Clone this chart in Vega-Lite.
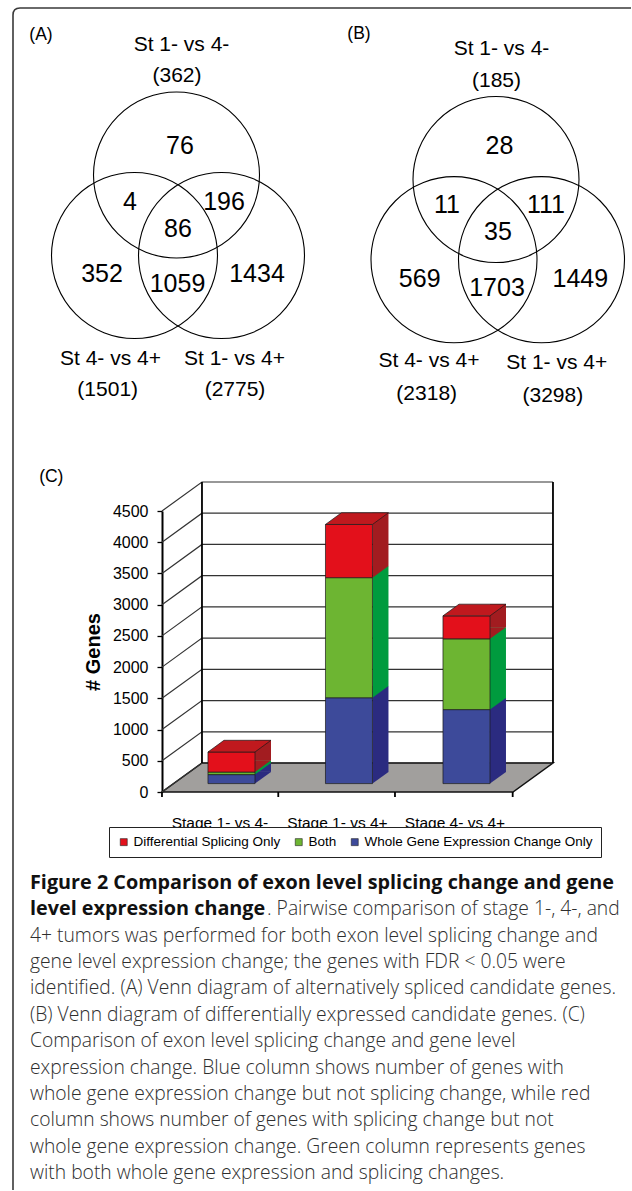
{
  "$schema": "https://vega.github.io/schema/vega-lite/v6.json",
  "padding": 0,
  "background": "white",
  "bounds": "flush",
  "spacing": 0,
  "config": {"view": {"stroke": null}, "font": "Liberation Sans"},
  "vconcat": [
    {
      "width": 632,
      "height": 511,
      "data": {"values": [
        {"kind": "circle", "x": 176.5, "y": 175},
        {"kind": "circle", "x": 134.5, "y": 255.5},
        {"kind": "circle", "x": 221.5, "y": 255.5},
        {"kind": "count", "x": 180, "y": 145.5, "label": "76"},
        {"kind": "count", "x": 130, "y": 201.5, "label": "4"},
        {"kind": "count", "x": 224, "y": 201.5, "label": "196"},
        {"kind": "count", "x": 178, "y": 229, "label": "86"},
        {"kind": "count", "x": 102, "y": 273.5, "label": "352"},
        {"kind": "count", "x": 177.5, "y": 283.5, "label": "1059"},
        {"kind": "count", "x": 257, "y": 273.5, "label": "1434"},
        {"kind": "set", "x": 181.5, "y": 44.5, "label": "St 1- vs 4-"},
        {"kind": "set", "x": 177, "y": 76, "label": "(362)"},
        {"kind": "set", "x": 110.5, "y": 358.5, "label": "St 4- vs 4+"},
        {"kind": "set", "x": 234.5, "y": 358.5, "label": "St 1- vs 4+"},
        {"kind": "set", "x": 107.7, "y": 390, "label": "(1501)"},
        {"kind": "set", "x": 235, "y": 390, "label": "(2775)"},
        {"kind": "panel", "x": 41, "y": 35, "label": "(A)"},
        {"kind": "panel", "x": 51.3, "y": 477, "label": "(C)"},
        {"kind": "circle", "x": 496, "y": 179.5},
        {"kind": "circle", "x": 454, "y": 259.7},
        {"kind": "circle", "x": 541.5, "y": 259.7},
        {"kind": "count", "x": 499.5, "y": 145.5, "label": "28"},
        {"kind": "count", "x": 447, "y": 205, "label": "11"},
        {"kind": "count", "x": 546, "y": 205, "label": "111"},
        {"kind": "count", "x": 498, "y": 232, "label": "35"},
        {"kind": "count", "x": 419.7, "y": 278.5, "label": "569"},
        {"kind": "count", "x": 497, "y": 287.5, "label": "1703"},
        {"kind": "count", "x": 580.3, "y": 278.5, "label": "1449"},
        {"kind": "set", "x": 501.5, "y": 48.5, "label": "St 1- vs 4-"},
        {"kind": "set", "x": 496.5, "y": 81, "label": "(185)"},
        {"kind": "set", "x": 429, "y": 361, "label": "St 4- vs 4+"},
        {"kind": "set", "x": 556.7, "y": 362.5, "label": "St 1- vs 4+"},
        {"kind": "set", "x": 426.7, "y": 394, "label": "(2318)"},
        {"kind": "set", "x": 552.8, "y": 396, "label": "(3298)"},
        {"kind": "panel", "x": 359, "y": 34, "label": "(B)"}
      ]},
      "encoding": {
        "x": {"field": "x", "type": "quantitative", "scale": {"domain": [0, 632]}, "axis": null},
        "y": {"field": "y", "type": "quantitative", "scale": {"domain": [0, 511], "reverse": true}, "axis": null}
      },
      "layer": [
        {"transform": [{"filter": "datum.kind === 'circle'"}],
         "mark": {"type": "point", "shape": "circle", "size": 27556, "filled": false, "color": "#000", "stroke": "#000", "strokeWidth": 1.1, "opacity": 1}},
        {"transform": [{"filter": "datum.kind === 'count'"}],
         "mark": {"type": "text", "font": "Liberation Sans", "fontSize": 25, "align": "center", "baseline": "middle", "color": "#000"},
         "encoding": {"text": {"field": "label", "type": "nominal"}}},
        {"transform": [{"filter": "datum.kind === 'set'"}],
         "mark": {"type": "text", "font": "Liberation Sans", "fontSize": 21, "align": "center", "baseline": "middle", "color": "#000"},
         "encoding": {"text": {"field": "label", "type": "nominal"}}},
        {"transform": [{"filter": "datum.kind === 'panel'"}],
         "mark": {"type": "text", "font": "Liberation Sans", "fontSize": 17.5, "align": "center", "baseline": "middle", "color": "#000"},
         "encoding": {"text": {"field": "label", "type": "nominal"}}},
        {"data": {"values": [{"x": 0, "y": 0}]},
         "mark": {"type": "point", "shape": "M13,1190 L13,15 Q13,8 20,8 L631,8", "size": 4, "filled": false, "color": "#3a3a3a", "stroke": "#3a3a3a", "strokeWidth": 1.6, "opacity": 1}}
      ]
    },
    {
      "width": 517,
      "height": 281,
      "data": {"values": [
        {"comparison": "Stage 1- vs 4-", "category": "Whole Gene Expression Change Only", "rank": "a", "count": 144},
        {"comparison": "Stage 1- vs 4-", "category": "Both", "rank": "b", "count": 41},
        {"comparison": "Stage 1- vs 4-", "category": "Differential Splicing Only", "rank": "c", "count": 321},
        {"comparison": "Stage 1- vs 4+", "category": "Whole Gene Expression Change Only", "rank": "a", "count": 1375},
        {"comparison": "Stage 1- vs 4+", "category": "Both", "rank": "b", "count": 1923},
        {"comparison": "Stage 1- vs 4+", "category": "Differential Splicing Only", "rank": "c", "count": 852},
        {"comparison": "Stage 4- vs 4+", "category": "Whole Gene Expression Change Only", "rank": "a", "count": 1185},
        {"comparison": "Stage 4- vs 4+", "category": "Both", "rank": "b", "count": 1133},
        {"comparison": "Stage 4- vs 4+", "category": "Differential Splicing Only", "rank": "c", "count": 368}
      ]},
      "layer": [
        {
          "data": {"values": [{}]},
          "mark": {"type": "point", "shape": "M-187,0 L164,0 L204,-29 L-147,-29 Z", "size": 4, "filled": true, "fill": "#A19F9D", "stroke": "#111", "strokeWidth": 1.5, "opacity": 1},
          "encoding": {
            "x": {"datum": "Stage 1- vs 4+", "type": "nominal", "scale": {"domain": ["Stage 1- vs 4-", "Stage 1- vs 4+", "Stage 4- vs 4+"], "paddingInner": 0.6, "paddingOuter": 1.1534, "align": 0.885},
                  "axis": {"title": null, "labelAngle": 0, "labelFont": "Liberation Sans", "labelFontSize": 15.5, "labelColor": "#000", "tickBand": "center", "bandPosition": 0.5, "labelOffset": -11.5, "labelPadding": 23, "ticks": false, "domain": false, "grid": false}},
            "y": {"datum": 0, "type": "quantitative", "scale": {"domain": [0, 4500], "nice": false},
                  "axis": {"offset": -162, "title": "# Genes", "titleFont": "Liberation Sans", "titleFontSize": 20, "titleFontWeight": "bold", "titleColor": "#000", "titleX": -69, "titleY": 140.5, "titleAngle": -90, "titleAlign": "center", "titleBaseline": "middle", "values": [0, 500, 1000, 1500, 2000, 2500, 3000, 3500, 4000, 4500], "format": "d", "labelOverlap": false, "labelFont": "Liberation Sans", "labelFontSize": 16, "labelColor": "#000", "labelPadding": 9, "tickSize": 5, "tickColor": "#000", "tickWidth": 1.3, "domainColor": "#000", "domainWidth": 2, "grid": false}}
          }
        },
        {
          "data": {"values": [{"v": 0}, {"v": 500}, {"v": 1000}, {"v": 1500}, {"v": 2000}, {"v": 2500}, {"v": 3000}, {"v": 3500}, {"v": 4000}, {"v": 4500}]},
          "mark": {"type": "point", "shape": "M-187,0 L-147,-29 L204,-29", "size": 4, "filled": false, "color": "#333", "stroke": "#333", "strokeWidth": 1.2, "opacity": 1},
          "encoding": {
            "x": {"datum": "Stage 1- vs 4+", "type": "nominal", "scale": {"domain": ["Stage 1- vs 4-", "Stage 1- vs 4+", "Stage 4- vs 4+"], "paddingInner": 0.6, "paddingOuter": 1.1534, "align": 0.885},
                  "axis": {"title": null, "labelAngle": 0, "labelFont": "Liberation Sans", "labelFontSize": 15.5, "labelColor": "#000", "tickBand": "center", "bandPosition": 0.5, "labelOffset": -11.5, "labelPadding": 23, "ticks": false, "domain": false, "grid": false}},
            "y": {"field": "v", "type": "quantitative", "scale": {"domain": [0, 4500], "nice": false},
                  "axis": {"offset": -162, "title": "# Genes", "titleFont": "Liberation Sans", "titleFontSize": 20, "titleFontWeight": "bold", "titleColor": "#000", "titleX": -69, "titleY": 140.5, "titleAngle": -90, "titleAlign": "center", "titleBaseline": "middle", "values": [0, 500, 1000, 1500, 2000, 2500, 3000, 3500, 4000, 4500], "format": "d", "labelOverlap": false, "labelFont": "Liberation Sans", "labelFontSize": 16, "labelColor": "#000", "labelPadding": 9, "tickSize": 5, "tickColor": "#000", "tickWidth": 1.3, "domainColor": "#000", "domainWidth": 2, "grid": false}}
          }
        },
        {
          "data": {"values": [{}]},
          "mark": {"type": "point", "shape": "M-147,-29 L-147,-310 M204,-29 L204,-310 M-187,0 L-187,5 M-70.7,0 L-70.7,5 M46,0 L46,5 M163.7,0 L163.7,5", "size": 4, "filled": false, "color": "#000", "stroke": "#000", "strokeWidth": 1.8, "opacity": 1},
          "encoding": {
            "x": {"datum": "Stage 1- vs 4+", "type": "nominal", "scale": {"domain": ["Stage 1- vs 4-", "Stage 1- vs 4+", "Stage 4- vs 4+"], "paddingInner": 0.6, "paddingOuter": 1.1534, "align": 0.885},
                  "axis": {"title": null, "labelAngle": 0, "labelFont": "Liberation Sans", "labelFontSize": 15.5, "labelColor": "#000", "tickBand": "center", "bandPosition": 0.5, "labelOffset": -11.5, "labelPadding": 23, "ticks": false, "domain": false, "grid": false}},
            "y": {"datum": 0, "type": "quantitative", "scale": {"domain": [0, 4500], "nice": false},
                  "axis": {"offset": -162, "title": "# Genes", "titleFont": "Liberation Sans", "titleFontSize": 20, "titleFontWeight": "bold", "titleColor": "#000", "titleX": -69, "titleY": 140.5, "titleAngle": -90, "titleAlign": "center", "titleBaseline": "middle", "values": [0, 500, 1000, 1500, 2000, 2500, 3000, 3500, 4000, 4500], "format": "d", "labelOverlap": false, "labelFont": "Liberation Sans", "labelFontSize": 16, "labelColor": "#000", "labelPadding": 9, "tickSize": 5, "tickColor": "#000", "tickWidth": 1.3, "domainColor": "#000", "domainWidth": 2, "grid": false}}
          }
        },
        {
          "transform": [{"stack": "count", "groupby": ["comparison"], "sort": [{"field": "rank", "order": "ascending"}], "as": ["y0", "y1"]}, {"filter": "datum.rank === 'a'"}],
          "mark": {"type": "bar", "width": 16, "xOffset": 31.5, "yOffset": -20.1, "y2Offset": -20.1, "color": "#2B2B80"},
          "encoding": {
            "x": {"field": "comparison", "type": "nominal", "scale": {"domain": ["Stage 1- vs 4-", "Stage 1- vs 4+", "Stage 4- vs 4+"], "paddingInner": 0.6, "paddingOuter": 1.1534, "align": 0.885},
                  "axis": {"title": null, "labelAngle": 0, "labelFont": "Liberation Sans", "labelFontSize": 15.5, "labelColor": "#000", "tickBand": "center", "bandPosition": 0.5, "labelOffset": -11.5, "labelPadding": 23, "ticks": false, "domain": false, "grid": false}},
            "y": {"field": "y1", "type": "quantitative", "scale": {"domain": [0, 4500], "nice": false},
                  "axis": {"offset": -162, "title": "# Genes", "titleFont": "Liberation Sans", "titleFontSize": 20, "titleFontWeight": "bold", "titleColor": "#000", "titleX": -69, "titleY": 140.5, "titleAngle": -90, "titleAlign": "center", "titleBaseline": "middle", "values": [0, 500, 1000, 1500, 2000, 2500, 3000, 3500, 4000, 4500], "format": "d", "labelOverlap": false, "labelFont": "Liberation Sans", "labelFontSize": 16, "labelColor": "#000", "labelPadding": 9, "tickSize": 5, "tickColor": "#000", "tickWidth": 1.3, "domainColor": "#000", "domainWidth": 2, "grid": false}},
            "y2": {"field": "y0"}
          }
        },
        {
          "transform": [{"stack": "count", "groupby": ["comparison"], "sort": [{"field": "rank", "order": "ascending"}], "as": ["y0", "y1"]}, {"filter": "datum.rank === 'b'"}],
          "mark": {"type": "bar", "width": 16, "xOffset": 31.5, "yOffset": -20.1, "y2Offset": -20.1, "color": "#009B3E"},
          "encoding": {
            "x": {"field": "comparison", "type": "nominal", "scale": {"domain": ["Stage 1- vs 4-", "Stage 1- vs 4+", "Stage 4- vs 4+"], "paddingInner": 0.6, "paddingOuter": 1.1534, "align": 0.885},
                  "axis": {"title": null, "labelAngle": 0, "labelFont": "Liberation Sans", "labelFontSize": 15.5, "labelColor": "#000", "tickBand": "center", "bandPosition": 0.5, "labelOffset": -11.5, "labelPadding": 23, "ticks": false, "domain": false, "grid": false}},
            "y": {"field": "y1", "type": "quantitative", "scale": {"domain": [0, 4500], "nice": false},
                  "axis": {"offset": -162, "title": "# Genes", "titleFont": "Liberation Sans", "titleFontSize": 20, "titleFontWeight": "bold", "titleColor": "#000", "titleX": -69, "titleY": 140.5, "titleAngle": -90, "titleAlign": "center", "titleBaseline": "middle", "values": [0, 500, 1000, 1500, 2000, 2500, 3000, 3500, 4000, 4500], "format": "d", "labelOverlap": false, "labelFont": "Liberation Sans", "labelFontSize": 16, "labelColor": "#000", "labelPadding": 9, "tickSize": 5, "tickColor": "#000", "tickWidth": 1.3, "domainColor": "#000", "domainWidth": 2, "grid": false}},
            "y2": {"field": "y0"}
          }
        },
        {
          "transform": [{"stack": "count", "groupby": ["comparison"], "sort": [{"field": "rank", "order": "ascending"}], "as": ["y0", "y1"]}, {"filter": "datum.rank === 'c'"}],
          "mark": {"type": "bar", "width": 16, "xOffset": 31.5, "yOffset": -20.1, "y2Offset": -20.1, "color": "#A21C20"},
          "encoding": {
            "x": {"field": "comparison", "type": "nominal", "scale": {"domain": ["Stage 1- vs 4-", "Stage 1- vs 4+", "Stage 4- vs 4+"], "paddingInner": 0.6, "paddingOuter": 1.1534, "align": 0.885},
                  "axis": {"title": null, "labelAngle": 0, "labelFont": "Liberation Sans", "labelFontSize": 15.5, "labelColor": "#000", "tickBand": "center", "bandPosition": 0.5, "labelOffset": -11.5, "labelPadding": 23, "ticks": false, "domain": false, "grid": false}},
            "y": {"field": "y1", "type": "quantitative", "scale": {"domain": [0, 4500], "nice": false},
                  "axis": {"offset": -162, "title": "# Genes", "titleFont": "Liberation Sans", "titleFontSize": 20, "titleFontWeight": "bold", "titleColor": "#000", "titleX": -69, "titleY": 140.5, "titleAngle": -90, "titleAlign": "center", "titleBaseline": "middle", "values": [0, 500, 1000, 1500, 2000, 2500, 3000, 3500, 4000, 4500], "format": "d", "labelOverlap": false, "labelFont": "Liberation Sans", "labelFontSize": 16, "labelColor": "#000", "labelPadding": 9, "tickSize": 5, "tickColor": "#000", "tickWidth": 1.3, "domainColor": "#000", "domainWidth": 2, "grid": false}},
            "y2": {"field": "y0"}
          }
        },
        {
          "transform": [{"stack": "count", "groupby": ["comparison"], "sort": [{"field": "rank", "order": "ascending"}], "as": ["y0", "y1"]}, {"filter": "datum.rank === 'a'"}],
          "mark": {"type": "point", "shape": "M23.5,0 L23.5,-11.7 L39.5,-11.7 Z", "size": 4, "filled": true, "opacity": 1, "strokeWidth": 0, "yOffset": -8.4, "color": "#2B2B80"},
          "encoding": {
            "x": {"field": "comparison", "type": "nominal", "scale": {"domain": ["Stage 1- vs 4-", "Stage 1- vs 4+", "Stage 4- vs 4+"], "paddingInner": 0.6, "paddingOuter": 1.1534, "align": 0.885},
                  "axis": {"title": null, "labelAngle": 0, "labelFont": "Liberation Sans", "labelFontSize": 15.5, "labelColor": "#000", "tickBand": "center", "bandPosition": 0.5, "labelOffset": -11.5, "labelPadding": 23, "ticks": false, "domain": false, "grid": false}},
            "y": {"field": "y0", "type": "quantitative", "scale": {"domain": [0, 4500], "nice": false},
                  "axis": {"offset": -162, "title": "# Genes", "titleFont": "Liberation Sans", "titleFontSize": 20, "titleFontWeight": "bold", "titleColor": "#000", "titleX": -69, "titleY": 140.5, "titleAngle": -90, "titleAlign": "center", "titleBaseline": "middle", "values": [0, 500, 1000, 1500, 2000, 2500, 3000, 3500, 4000, 4500], "format": "d", "labelOverlap": false, "labelFont": "Liberation Sans", "labelFontSize": 16, "labelColor": "#000", "labelPadding": 9, "tickSize": 5, "tickColor": "#000", "tickWidth": 1.3, "domainColor": "#000", "domainWidth": 2, "grid": false}}
          }
        },
        {
          "transform": [{"stack": "count", "groupby": ["comparison"], "sort": [{"field": "rank", "order": "ascending"}], "as": ["y0", "y1"]}, {"filter": "datum.rank === 'b'"}],
          "mark": {"type": "point", "shape": "M23.5,0 L23.5,-11.7 L39.5,-11.7 Z", "size": 4, "filled": true, "opacity": 1, "strokeWidth": 0, "yOffset": -8.4, "color": "#009B3E"},
          "encoding": {
            "x": {"field": "comparison", "type": "nominal", "scale": {"domain": ["Stage 1- vs 4-", "Stage 1- vs 4+", "Stage 4- vs 4+"], "paddingInner": 0.6, "paddingOuter": 1.1534, "align": 0.885},
                  "axis": {"title": null, "labelAngle": 0, "labelFont": "Liberation Sans", "labelFontSize": 15.5, "labelColor": "#000", "tickBand": "center", "bandPosition": 0.5, "labelOffset": -11.5, "labelPadding": 23, "ticks": false, "domain": false, "grid": false}},
            "y": {"field": "y0", "type": "quantitative", "scale": {"domain": [0, 4500], "nice": false},
                  "axis": {"offset": -162, "title": "# Genes", "titleFont": "Liberation Sans", "titleFontSize": 20, "titleFontWeight": "bold", "titleColor": "#000", "titleX": -69, "titleY": 140.5, "titleAngle": -90, "titleAlign": "center", "titleBaseline": "middle", "values": [0, 500, 1000, 1500, 2000, 2500, 3000, 3500, 4000, 4500], "format": "d", "labelOverlap": false, "labelFont": "Liberation Sans", "labelFontSize": 16, "labelColor": "#000", "labelPadding": 9, "tickSize": 5, "tickColor": "#000", "tickWidth": 1.3, "domainColor": "#000", "domainWidth": 2, "grid": false}}
          }
        },
        {
          "transform": [{"stack": "count", "groupby": ["comparison"], "sort": [{"field": "rank", "order": "ascending"}], "as": ["y0", "y1"]}, {"filter": "datum.rank === 'c'"}],
          "mark": {"type": "point", "shape": "M23.5,0 L23.5,-11.7 L39.5,-11.7 Z", "size": 4, "filled": true, "opacity": 1, "strokeWidth": 0, "yOffset": -8.4, "color": "#A21C20"},
          "encoding": {
            "x": {"field": "comparison", "type": "nominal", "scale": {"domain": ["Stage 1- vs 4-", "Stage 1- vs 4+", "Stage 4- vs 4+"], "paddingInner": 0.6, "paddingOuter": 1.1534, "align": 0.885},
                  "axis": {"title": null, "labelAngle": 0, "labelFont": "Liberation Sans", "labelFontSize": 15.5, "labelColor": "#000", "tickBand": "center", "bandPosition": 0.5, "labelOffset": -11.5, "labelPadding": 23, "ticks": false, "domain": false, "grid": false}},
            "y": {"field": "y0", "type": "quantitative", "scale": {"domain": [0, 4500], "nice": false},
                  "axis": {"offset": -162, "title": "# Genes", "titleFont": "Liberation Sans", "titleFontSize": 20, "titleFontWeight": "bold", "titleColor": "#000", "titleX": -69, "titleY": 140.5, "titleAngle": -90, "titleAlign": "center", "titleBaseline": "middle", "values": [0, 500, 1000, 1500, 2000, 2500, 3000, 3500, 4000, 4500], "format": "d", "labelOverlap": false, "labelFont": "Liberation Sans", "labelFontSize": 16, "labelColor": "#000", "labelPadding": 9, "tickSize": 5, "tickColor": "#000", "tickWidth": 1.3, "domainColor": "#000", "domainWidth": 2, "grid": false}}
          }
        },
        {
          "transform": [{"stack": "count", "groupby": ["comparison"], "sort": [{"field": "rank", "order": "ascending"}], "as": ["y0", "y1"]}],
          "mark": {"type": "bar", "yOffset": -8.4, "y2Offset": -8.4, "stroke": "#1a1a1a", "strokeWidth": 0.7},
          "encoding": {
            "x": {"field": "comparison", "type": "nominal", "scale": {"domain": ["Stage 1- vs 4-", "Stage 1- vs 4+", "Stage 4- vs 4+"], "paddingInner": 0.6, "paddingOuter": 1.1534, "align": 0.885},
                  "axis": {"title": null, "labelAngle": 0, "labelFont": "Liberation Sans", "labelFontSize": 15.5, "labelColor": "#000", "tickBand": "center", "bandPosition": 0.5, "labelOffset": -11.5, "labelPadding": 23, "ticks": false, "domain": false, "grid": false}},
            "y": {"field": "y1", "type": "quantitative", "scale": {"domain": [0, 4500], "nice": false},
                  "axis": {"offset": -162, "title": "# Genes", "titleFont": "Liberation Sans", "titleFontSize": 20, "titleFontWeight": "bold", "titleColor": "#000", "titleX": -69, "titleY": 140.5, "titleAngle": -90, "titleAlign": "center", "titleBaseline": "middle", "values": [0, 500, 1000, 1500, 2000, 2500, 3000, 3500, 4000, 4500], "format": "d", "labelOverlap": false, "labelFont": "Liberation Sans", "labelFontSize": 16, "labelColor": "#000", "labelPadding": 9, "tickSize": 5, "tickColor": "#000", "tickWidth": 1.3, "domainColor": "#000", "domainWidth": 2, "grid": false}},
            "y2": {"field": "y0"},
            "color": {"field": "category", "type": "nominal", "scale": {"domain": ["Differential Splicing Only", "Both", "Whole Gene Expression Change Only"], "range": ["#E3101B", "#6DB532", "#3D4A9A"]},
                      "legend": {"title": null, "orient": "none", "legendX": 109, "legendY": 827, "direction": "horizontal", "strokeColor": "#222", "fillColor": "white", "padding": 8, "columnPadding": 11, "labelFont": "Liberation Sans", "labelFontSize": 13.5, "labelColor": "#000", "labelLimit": 320, "labelOffset": 3, "symbolType": "square", "symbolSize": 49, "symbolStrokeColor": "#222", "symbolStrokeWidth": 0.6}}
          }
        },
        {
          "transform": [{"stack": "count", "groupby": ["comparison"], "sort": [{"field": "rank", "order": "ascending"}], "as": ["y0", "y1"]}, {"filter": "datum.rank === 'c'"}],
          "mark": {"type": "point", "shape": "M-23.5,0 L23.5,0 L39.5,-11.7 L-7.5,-11.7 Z", "size": 4, "filled": true, "fill": "#C0191E", "stroke": "#1a1a1a", "strokeWidth": 0.7, "opacity": 1, "yOffset": -8.4},
          "encoding": {
            "x": {"field": "comparison", "type": "nominal", "scale": {"domain": ["Stage 1- vs 4-", "Stage 1- vs 4+", "Stage 4- vs 4+"], "paddingInner": 0.6, "paddingOuter": 1.1534, "align": 0.885},
                  "axis": {"title": null, "labelAngle": 0, "labelFont": "Liberation Sans", "labelFontSize": 15.5, "labelColor": "#000", "tickBand": "center", "bandPosition": 0.5, "labelOffset": -11.5, "labelPadding": 23, "ticks": false, "domain": false, "grid": false}},
            "y": {"field": "y1", "type": "quantitative", "scale": {"domain": [0, 4500], "nice": false},
                  "axis": {"offset": -162, "title": "# Genes", "titleFont": "Liberation Sans", "titleFontSize": 20, "titleFontWeight": "bold", "titleColor": "#000", "titleX": -69, "titleY": 140.5, "titleAngle": -90, "titleAlign": "center", "titleBaseline": "middle", "values": [0, 500, 1000, 1500, 2000, 2500, 3000, 3500, 4000, 4500], "format": "d", "labelOverlap": false, "labelFont": "Liberation Sans", "labelFontSize": 16, "labelColor": "#000", "labelPadding": 9, "tickSize": 5, "tickColor": "#000", "tickWidth": 1.3, "domainColor": "#000", "domainWidth": 2, "grid": false}}
          }
        }
      ]
    },
    {
      "width": 632,
      "height": 399,
      "data": {"values": [
        {"line": 1, "part": "bold", "text": "Figure 2 Comparison of exon level splicing change and gene"},
        {"line": 2, "part": "bold", "text": "level expression change"},
        {"line": 2, "part": "continued", "text": ". Pairwise comparison of stage 1-, 4-, and"},
        {"line": 3, "part": "regular", "text": "4+ tumors was performed for both exon level splicing change and"},
        {"line": 4, "part": "regular", "text": "gene level expression change; the genes with FDR < 0.05 were"},
        {"line": 5, "part": "regular", "text": "identified. (A) Venn diagram of alternatively spliced candidate genes."},
        {"line": 6, "part": "regular", "text": "(B) Venn diagram of differentially expressed candidate genes. (C)"},
        {"line": 7, "part": "regular", "text": "Comparison of exon level splicing change and gene level"},
        {"line": 8, "part": "regular", "text": "expression change. Blue column shows number of genes with"},
        {"line": 9, "part": "regular", "text": "whole gene expression change but not splicing change, while red"},
        {"line": 10, "part": "regular", "text": "column shows number of genes with splicing change but not"},
        {"line": 11, "part": "regular", "text": "whole gene expression change. Green column represents genes"},
        {"line": 12, "part": "regular", "text": "with both whole gene expression and splicing changes."}
      ]},
      "encoding": {
        "x": {"datum": 30, "type": "quantitative", "scale": {"domain": [0, 632]}, "axis": null},
        "y": {"field": "line", "type": "quantitative", "scale": {"domain": [-2.436, 12.678], "reverse": true}, "axis": null},
        "text": {"field": "text", "type": "nominal"}
      },
      "layer": [
        {"transform": [{"filter": "datum.part === 'bold'"}],
         "mark": {"type": "text", "align": "left", "baseline": "middle", "font": "Open Sans", "fontSize": 19.8, "fontWeight": "bold", "color": "#111"}},
        {"transform": [{"filter": "datum.part === 'regular'"}],
         "mark": {"type": "text", "align": "left", "baseline": "middle", "font": "Open Sans", "fontSize": 19.3, "fontWeight": 300, "color": "#2e2e2e"}},
        {"transform": [{"filter": "datum.part === 'continued'"}],
         "mark": {"type": "text", "align": "left", "baseline": "middle", "font": "Open Sans", "fontSize": 19.3, "fontWeight": 300, "color": "#2e2e2e", "dx": 237}}
      ]
    }
  ]
}
